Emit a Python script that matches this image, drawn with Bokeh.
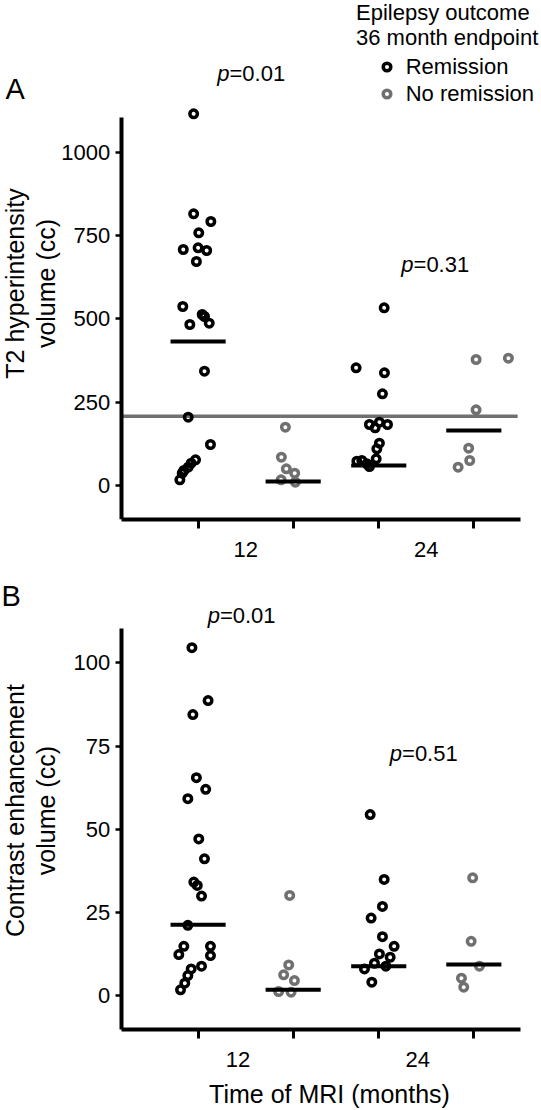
from math import pi
from bokeh.plotting import figure
from bokeh.layouts import column
from bokeh.models import FixedTicker, Range1d, Label, Legend, LegendItem
from bokeh.embed import file_html
from bokeh.resources import INLINE

FONT = "Liberation Sans"
BLACK = "#000000"
GRAY = "#707070"

# ---------------- data ----------------
# x positions: 12 mo remission, 12 mo no remission, 24 mo remission, 24 mo no remission
group_pos = [1.0, 2.0, 2.9, 3.9]
group_outcome = ["Remission", "No remission", "Remission", "No remission"]
x_tick_labels = ["12", "24"]
x_label_pos_a = [1.5, 3.4]
x_label_pos_b = [1.42, 3.31]

# Panel A: T2 hyperintensity volume (cc)
a_rem12 = [1115, 815, 792, 758, 708, 713, 705, 672, 537, 483, 513, 507, 487, 343,
           205, 123, 77, 67, 55, 45, 37, 17]
a_rem12_jit = [-0.047, -0.047, 0.134, 0.007, -0.156, 0.0, 0.09, -0.018, -0.161, -0.087,
               0.043, 0.067, 0.117, 0.067, -0.104, 0.13, -0.027, -0.073, -0.104, -0.15,
               -0.167, -0.192]
a_no12 = [175, 85, 50, 37, 17, 10]
a_no12_jit = [-0.082, -0.124, -0.072, 0.016, -0.127, 0.023]
a_rem24 = [533, 353, 338, 275, 183, 173, 190, 183, 127, 110, 80, 73, 75, 65, 57]
a_rem24_jit = [0.057, -0.238, 0.06, 0.039, -0.098, -0.038, 0.007, 0.092, 0.007, -0.02,
               -0.027, -0.23, -0.178, -0.125, -0.098]
a_no24 = [378, 382, 227, 112, 75, 55]
a_no24_jit = [0.024, 0.364, 0.024, -0.054, -0.043, -0.165]
a_medians = [432, 12, 60, 165]
a_reference = 208
a_yticks = [0, 250, 500, 750, 1000]
a_pvalues = ["0.01", "0.31"]

# Panel B: Contrast enhancement volume (cc)
b_rem12 = [104.6, 88.7, 84.5, 65.5, 62.0, 59.2, 47.1, 41.1, 34.1, 33.1, 29.9, 21.1,
           14.8, 12.3, 14.8, 12.0, 8.8, 8.0, 6.0, 3.7, 1.7]
b_rem12_jit = [-0.065, 0.105, -0.055, -0.018, 0.08, -0.108, 0.007, 0.067, -0.045, -0.009,
               0.036, -0.108, -0.15, -0.203, 0.13, 0.13, 0.036, -0.073, -0.108, -0.14,
               -0.185]
b_no12 = [30.1, 9.2, 6.2, 4.5, 1.2, 1.0]
b_no12_jit = [-0.037, -0.047, -0.1, 0.013, -0.153, -0.022]
b_rem24 = [54.4, 34.9, 26.8, 23.3, 17.7, 14.8, 12.5, 11.5, 9.7, 8.8, 8.0, 4.0]
b_rem24_jit = [-0.09, 0.057, 0.039, -0.08, 0.039, 0.162, 0.007, 0.12, -0.045, 0.075,
               -0.15, -0.073]
b_no24 = [35.4, 16.3, 8.8, 5.2, 2.5]
b_no24_jit = [-0.012, -0.028, 0.059, -0.13, -0.106]
b_medians = [21.3, 1.7, 8.8, 9.3]
b_yticks = [0, 25, 50, 75, 100]
b_pvalues = ["0.01", "0.51"]

outcome_colors = {"Remission": BLACK, "No remission": GRAY}

X_RANGE = (-1.0785, 4.612)
X_AXIS_SPAN = (0.191, 4.391)


def txt(p, x, y, text, size="22px", style="normal", align="left", angle=0.0):
    p.add_layout(Label(x=x, y=y, text=text, text_font=FONT, text_font_size=size,
                       text_font_style=style, text_align=align,
                       text_baseline="alphabetic", text_color=BLACK, angle=angle))


def make_panel(letter, ylabel_lines, groups, jits, medians, yticks, yrange, ybounds,
               label_pos, pvalues, p_xy, letter_xy, ylabel_xy, height, bottom,
               x_label_standoff, xaxis_at=None, xtitle_xy=None, reference=None,
               legend_spec=None):
    p = figure(frame_width=541, frame_height=height, output_backend="svg",
               toolbar_location=None, x_range=Range1d(*X_RANGE),
               y_range=Range1d(*yrange), min_border=0, min_border_bottom=bottom)
    p.outline_line_color = None
    p.xgrid.visible = False
    p.ygrid.visible = False
    p.background_fill_color = "white"
    p.border_fill_color = "white"

    if reference is not None:
        p.segment(x0=[X_AXIS_SPAN[0]], x1=[X_AXIS_SPAN[1] - 0.03], y0=[reference],
                  y1=[reference], line_color=GRAY, line_width=3.5)

    renderers = {}
    for gx, vals, jit, outcome in zip(group_pos, groups, jits, group_outcome):
        xs = [gx + j for j in jit]
        r = p.scatter(xs, vals, marker="circle", size=7.5, line_width=3.5,
                      line_color=outcome_colors[outcome], fill_color=None)
        renderers.setdefault(outcome, r)
    p.segment(x0=[g - 0.29 for g in group_pos], x1=[g + 0.29 for g in group_pos],
              y0=medians, y1=medians, line_color=BLACK, line_width=4)

    # y axis, drawn at the left end of the x axis
    ya = p.yaxis[0]
    ya.fixed_location = X_AXIS_SPAN[0]
    ya.ticker = FixedTicker(ticks=yticks)
    ya.bounds = ybounds
    ya.axis_line_width = 4
    ya.major_tick_line_width = 2.5
    ya.major_tick_out = 6
    ya.major_tick_in = 0
    ya.minor_tick_line_color = None
    ya.major_label_standoff = 5
    ya.major_label_text_font = FONT
    ya.major_label_text_font_size = "22px"
    ya.major_label_text_color = BLACK

    # x axis
    xa = p.xaxis[0]
    if xaxis_at is not None:
        xa.fixed_location = xaxis_at
    xa.bounds = X_AXIS_SPAN
    xa.ticker = FixedTicker(ticks=label_pos, minor_ticks=group_pos)
    xa.major_label_overrides = {label_pos[0]: x_tick_labels[0], label_pos[1]: x_tick_labels[1]}
    xa.axis_line_width = 4
    xa.major_tick_line_color = None
    xa.major_tick_out = 0
    xa.major_tick_in = 0
    xa.minor_tick_line_width = 3
    xa.minor_tick_out = 9
    xa.minor_tick_in = 0
    xa.major_label_standoff = x_label_standoff
    xa.major_label_text_font = FONT
    xa.major_label_text_font_size = "22px"
    xa.major_label_text_color = BLACK

    if xtitle_xy is not None:
        txt(p, xtitle_xy[0], xtitle_xy[1], "Time of MRI (months)", size="25px",
            align="center")

    # y-axis title (two rotated lines)
    for (lx, ly), line in zip(ylabel_xy, ylabel_lines):
        txt(p, lx, ly, line, size="25px", align="center", angle=pi / 2)

    # p-values: italic p followed by upright "=value"
    for (px, py), pv in zip(p_xy, pvalues):
        txt(p, px, py, "p", style="italic", align="right")
        txt(p, px, py, "=" + pv)
    # panel letter
    txt(p, letter_xy[0], letter_xy[1], letter, size="29px")

    if legend_spec is not None:
        (tx, ty1, ty2), loc = legend_spec
        txt(p, tx, ty1, "Epilepsy outcome")
        txt(p, tx, ty2, "36 month endpoint")
        lg = Legend(items=[LegendItem(label="Remission", renderers=[renderers["Remission"]]),
                           LegendItem(label="No remission", renderers=[renderers["No remission"]])],
                    location=loc, orientation="vertical")
        lg.glyph_width = 19
        lg.glyph_height = 19
        lg.label_height = 26
        lg.spacing = 1
        lg.padding = 0
        lg.margin = 0
        lg.label_standoff = 10
        lg.label_text_font = FONT
        lg.label_text_font_size = "22px"
        lg.label_text_color = BLACK
        lg.background_fill_alpha = 0
        lg.border_line_alpha = 0
        p.add_layout(lg)
    return p


pa = make_panel("A", ["T2 hyperintensity", "volume (cc)"],
                [a_rem12, a_no12, a_rem24, a_no24],
                [a_rem12_jit, a_no12_jit, a_rem24_jit, a_no24_jit],
                a_medians, a_yticks, (-102, 1455), (-102, 1103), x_label_pos_a,
                a_pvalues, [(1.330, 1237.5), (3.266, 662.5)], (-1.026, 1188.6),
                [(-0.928, 606), (-0.602, 606)],
                height=519, bottom=50, x_label_standoff=13, reference=a_reference,
                legend_spec=((2.661, 1418.5, 1344.5), (376.7, 412.3)))

pb = make_panel("B", ["Contrast enhancement", "volume (cc)"],
                [b_rem12, b_no12, b_rem24, b_no24],
                [b_rem12_jit, b_no12_jit, b_rem24_jit, b_no24_jit],
                b_medians, b_yticks, (-34.29, 128.12), (-10.23, 110.3), x_label_pos_b,
                b_pvalues, [(1.229, 114.36), (3.145, 72.76)], (-1.067, 120.2),
                [(-0.928, 55.6), (-0.602, 55.6)],
                height=540, bottom=0, x_label_standoff=13, xaxis_at=-10.23,
                xtitle_xy=(2.382, -29.58))

layout = column(pa, pb, spacing=0)
open("out.html", "w").write(file_html(layout, INLINE))
